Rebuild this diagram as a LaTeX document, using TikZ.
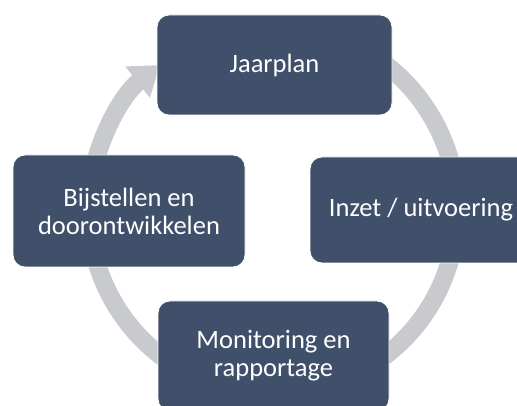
\documentclass[tikz,border=0pt]{standalone}
\usepackage{fontspec}
\setmainfont{Carlito}
\usepackage{xcolor}
\usetikzlibrary{positioning, arrows.meta}
\definecolor{boxblue}{RGB}{64,80,106}
\definecolor{ringgray}{RGB}{201,202,206}

\begin{document}
\begin{tikzpicture}[x=1pt, y=1pt,
  stage/.style={draw=white, line width=0.8pt, fill=boxblue, rounded corners=12pt, text=white, font=\fontsize{26.5}{28}\selectfont, align=center, inner sep=0pt}]
\useasboundingbox (0,0) rectangle (517,406);
\coordinate (c) at (273,196);
% ring with arrow back to the jaarplan
\draw[ringgray, line width=18pt, -{Triangle[width=38pt,length=28pt]}] (c) ++(80:184) arc[start angle=80, end angle=-232, radius=184];
\node[stage, minimum width=235pt, minimum height=100pt] (jaarplan) at (274.5,341) {Jaarplan};
\node[stage, minimum width=222pt, minimum height=106pt] (inzet) at (421,196) {Inzet / uitvoering};
\node[stage, minimum width=231pt, minimum height=110pt] (monitoring) at (273.5,50) {Monitoring en\\rapportage};
\node[stage, minimum width=232pt, minimum height=112pt] (bijstellen) at (129,195) {Bijstellen en\\doorontwikkelen};
\end{tikzpicture}
\end{document}
